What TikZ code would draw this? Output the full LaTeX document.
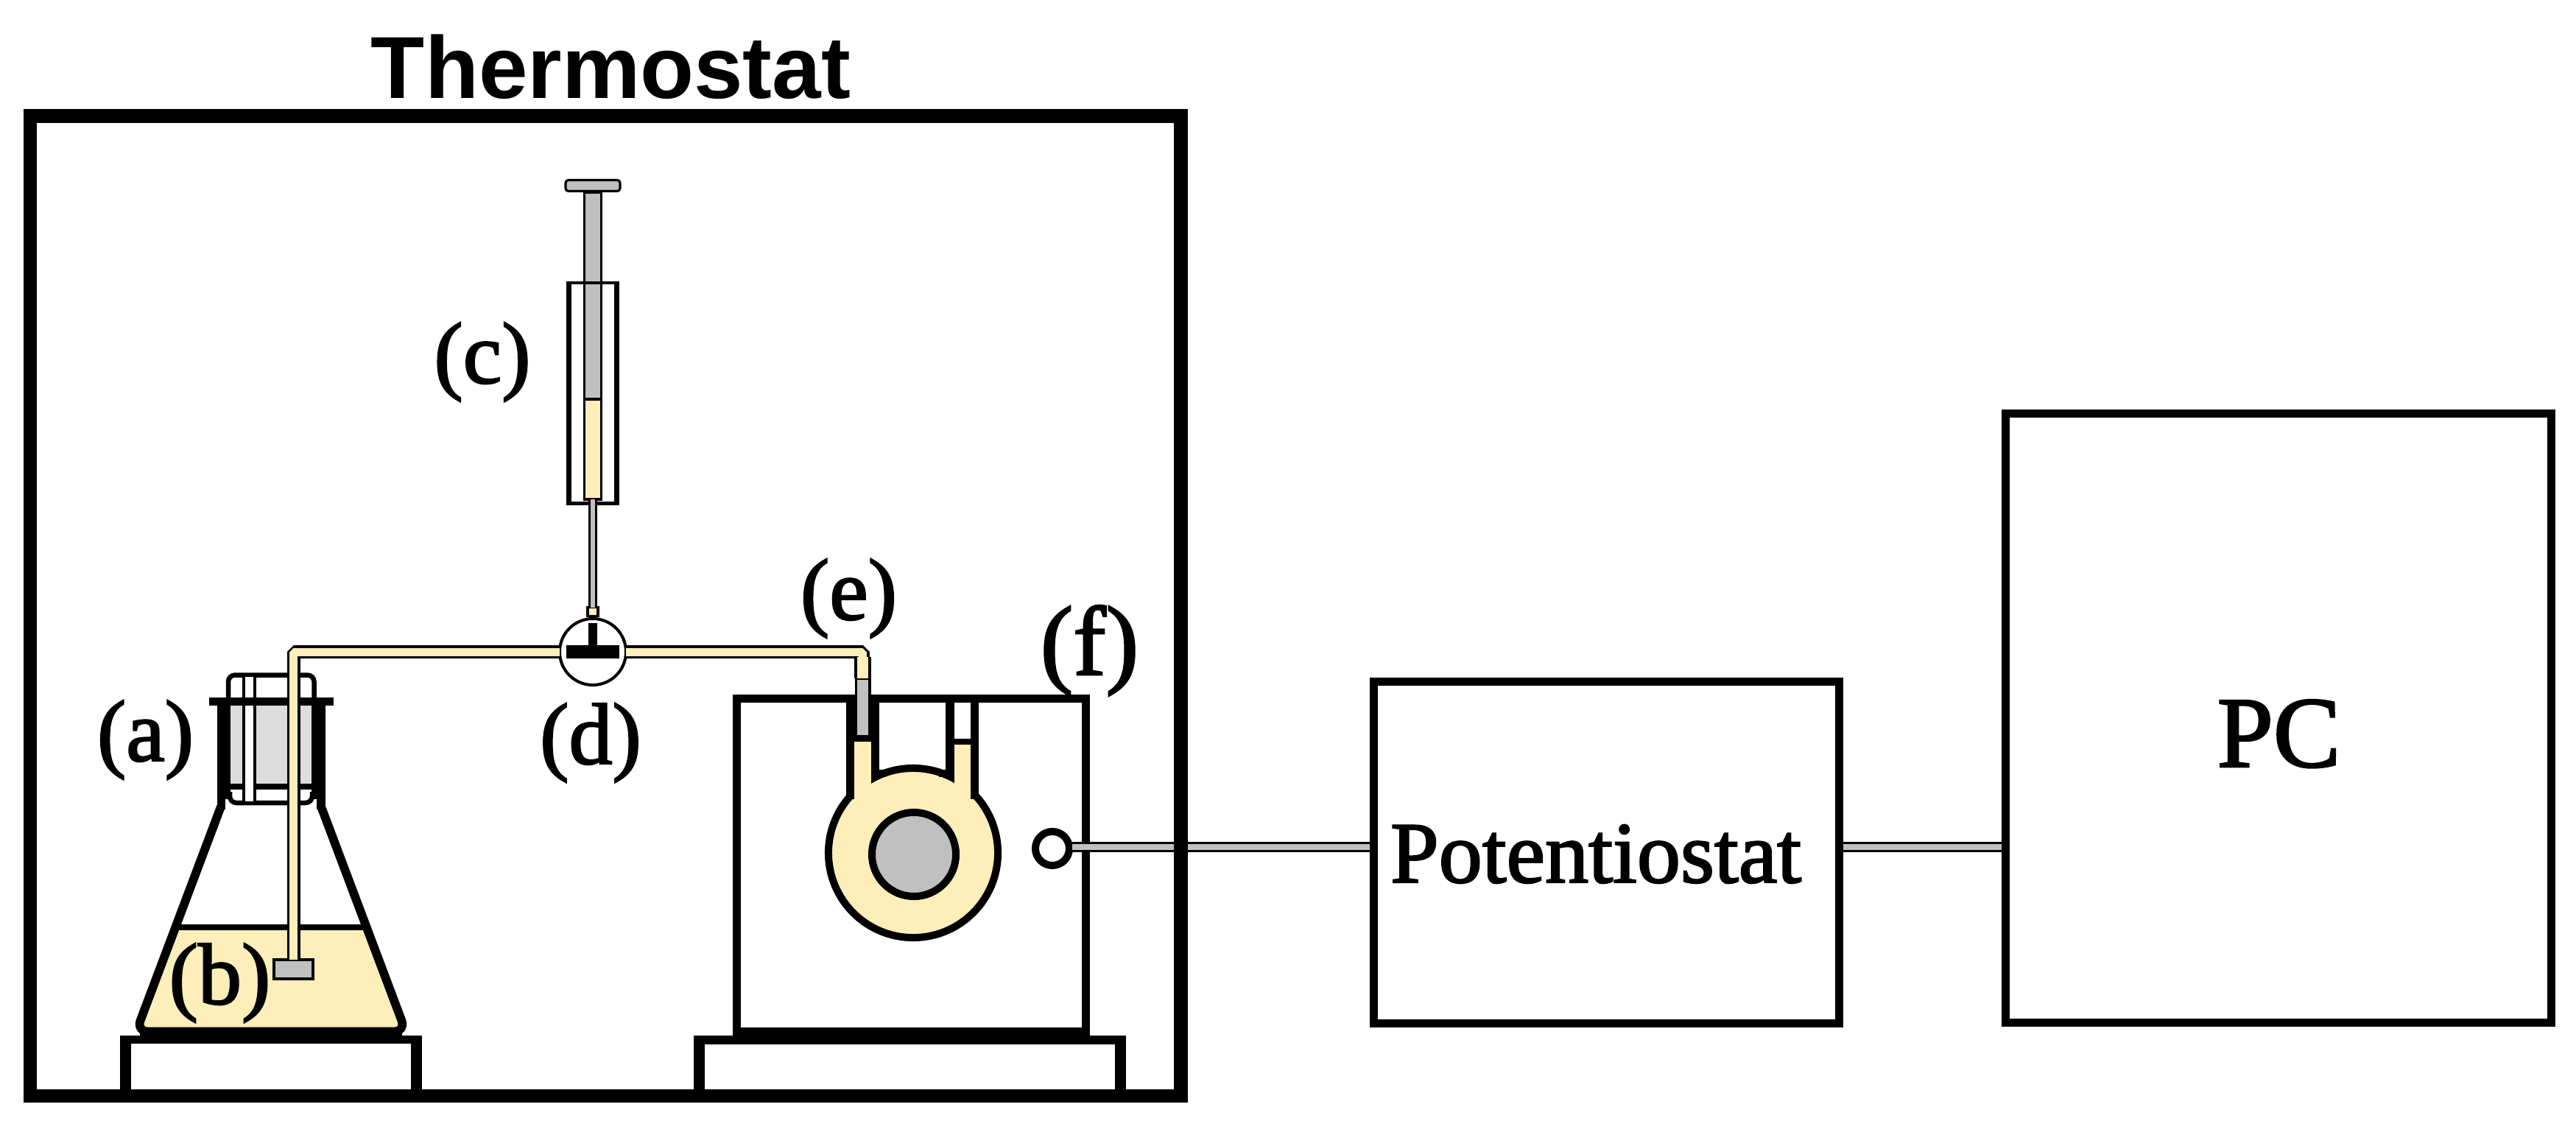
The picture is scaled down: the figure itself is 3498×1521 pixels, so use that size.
\documentclass[tikz,border=0pt]{standalone}
\usepackage{fontspec}
\setmainfont{Liberation Serif}
\newfontfamily\lblfont{Liberation Serif}[FakeBold=2]
\newfontfamily\headfont{Liberation Sans}
\newcommand{\pxu}{0.28453pt}
\definecolor{liquid}{HTML}{FEEEB9}
\definecolor{metal}{HTML}{C0C0C0}
\definecolor{stopper}{HTML}{DCDCDC}
\tikzset{
  lbl/.style={anchor=base,inner sep=0pt,outer sep=0pt,font=\lblfont\fontsize{33.6pt}{40pt}\selectfont},
  bigbox/.style={draw=black,fill=white,line width=11*\pxu,inner sep=0pt,outer sep=0pt,rectangle},
  tube/.style={draw=black,line width=3.5*\pxu,double=liquid,double distance=11*\pxu,line join=bevel},
  wire/.style={draw=black,line width=3.5*\pxu,double=metal,double distance=7.5*\pxu},
  needle/.style={draw=black,line width=3.2*\pxu,double=metal,double distance=5.5*\pxu},
  ring/.style={circle,inner sep=0pt,outer sep=0pt,draw=black},
  thinbox/.style={rectangle,inner sep=0pt,outer sep=0pt,draw=black,line width=3.2*\pxu}
}
\begin{document}
\begin{tikzpicture}[x=0.01cm,y=-0.01cm]
\path[use as bounding box,fill=white] (0,0) rectangle (3498,1521);

% supports
\fill[black] (163,1406) rectangle (573,1482);
\fill[white] (178,1417) rectangle (558,1482);
\fill[black] (942,1406) rectangle (1529,1482);
\fill[white] (957,1418) rectangle (1514,1482);

% flask: liquid and walls
\fill[liquid,rounded corners=15*\pxu] (238,1259) -- (185,1400) -- (551,1400) -- (498,1259) -- cycle;
\draw[black,line width=8*\pxu] (238,1259) -- (498,1259);
\draw[black,line width=11.7*\pxu,rounded corners=16*\pxu,line join=round] (300,1095) -- (185,1400.5) -- (551,1400.5) -- (436,1095);
\fill[black] (190,1395) rectangle (546,1406);
% stopper
\fill[stopper] (313,958) rectangle (423,1064);
\draw[black,line width=6.5*\pxu,rounded corners=9*\pxu] (310,952) -- (310,916.5) -- (426.5,916.5) -- (426.5,952);
\fill[white] (314,1071) rectangle (422,1087);
\draw[black,line width=6.5*\pxu,rounded corners=9*\pxu] (312,1075) -- (312,1090) -- (424,1090) -- (424,1075);
\draw[black,line width=7.5*\pxu] (313,1068) -- (423,1068);
\node[thinbox,line width=4*\pxu,fill=white,minimum width=15*\pxu,minimum height=173*\pxu] (stoppertube) at (338.5,1003.5) {};
% neck
\fill[black] (295,947) rectangle (313,1085);
\fill[black] (295,1085) rectangle (306,1099);
\fill[black] (423,947) rectangle (442,1085);
\fill[black] (430,1085) rectangle (442,1099);
\fill[black] (284,947) rectangle (453,958);

% electrode end piece and stopcock
\node[thinbox,fill=metal,minimum width=53*\pxu,minimum height=26*\pxu] (endpiece) at (398.5,1316) {};
\node[ring,fill=white,line width=4*\pxu,minimum size=90*\pxu] (valve) at (805,885) {};
\fill[black] (769,876) rectangle (841,894);
\fill[black] (799,846) rectangle (811,876);

% syringe
\fill[black] (769,382) rectangle (776,686);
\fill[black] (834,382) rectangle (841,686);
\fill[black] (769,681) rectangle (841,686);
\node[thinbox,fill=metal,minimum width=23*\pxu,minimum height=281*\pxu] (plungerrod) at (805,401.5) {};
\node[thinbox,fill=liquid,minimum width=23*\pxu,minimum height=136*\pxu] (syrliquid) at (805,610) {};
\fill[black] (769,382) rectangle (841,385.5);
\node[thinbox,fill=liquid,minimum width=14*\pxu,minimum height=12*\pxu] (cap) at (805,830.5) {};
\node[thinbox,fill=metal,rounded corners=4*\pxu,minimum width=74*\pxu,minimum height=15*\pxu] (handle) at (805,252) {};
\draw[needle] (syrliquid.south) -- (cap.north);

% cell
\node[bigbox,minimum width=474*\pxu,minimum height=451.5*\pxu] (cell) at (1237.5,1174.75) {};
\node[ring,fill=liquid,line width=10*\pxu,minimum size=230*\pxu] (cellbody) at (1240,1158) {};
\fill[liquid] (1160,1007) rectangle (1183,1100);
\fill[liquid] (1296,1011) rectangle (1318,1100);
\fill[black] (1149,954) rectangle (1194,1007);
\fill[black] (1149,1007) rectangle (1160,1085);
\fill[black] (1183,1007) rectangle (1194,1055);
\fill[black] (1284,954) rectangle (1296,1055);
\fill[black] (1318,954) rectangle (1329,1085);
\fill[black] (1296,1003) rectangle (1318,1011);
\fill[black] (1183,1045) rectangle (1203,1055);
\fill[black] (1275,1045) rectangle (1296,1055);
\node[ring,fill=metal,line width=10*\pxu,minimum size=114*\pxu] (workel) at (1241,1160) {};
\node[thinbox,line width=3.5*\pxu,fill=metal,minimum width=18.5*\pxu,minimum height=79*\pxu] (capillary) at (1171.5,960.5) {};
\coordinate (tubedown) at (capillary.north);
\coordinate (tubebend) at (1171.5,892);

% tubes
\draw[tube] (endpiece.north) |- (valve.west);
\draw[tube] (valve.east) -| (tubedown);
\draw[tube,double distance=15.5*\pxu] (tubebend) -- (tubedown);

% boxes and wires
\node[ring,fill=white,line width=10*\pxu,minimum size=46*\pxu] (fterm) at (1429,1152) {};
\node[bigbox,minimum width=632*\pxu,minimum height=464*\pxu] (pot) at (2181.5,1157.5) {};
\node[bigbox,minimum width=741*\pxu,minimum height=827*\pxu] (pc) at (3094,975) {};
\coordinate (wirey) at (0,1150);
\draw[wire,shorten <=4*\pxu,shorten >=5.5*\pxu] (fterm.east |- wirey) -- (pot.west |- wirey);
\draw[wire,shorten <=5.5*\pxu,shorten >=5.5*\pxu] (pot.east |- wirey) -- (pc.west |- wirey);

% thermostat frame
\node[rectangle,draw=black,line width=18.5*\pxu,inner sep=0pt,outer sep=0pt,minimum width=1561.5*\pxu,minimum height=1329.5*\pxu] (frame) at (822.25,822.75) {};

% labels
\node[anchor=base,inner sep=0pt,font=\headfont\bfseries\fontsize{34pt}{40pt}\selectfont] (title) at (829.5,133) {Thermostat};
\node[lbl] (la) at (197.5,1033) {(a)};
\node[lbl] (lb) at (298.5,1363) {(b)};
\node[lbl] (lc) at (655,520) {(c)};
\node[lbl] (ld) at (802,1037) {(d)};
\node[lbl] (le) at (1152.5,841) {(e)};
\node[lbl,font=\lblfont\fontsize{38pt}{44pt}\selectfont] (lf) at (1479.5,916) {(f)};
\node[lbl] (ptext) at (2167,1198) {Potentiostat};
\node[lbl,font=\lblfont\fontsize{39pt}{44pt}\selectfont] (pctext) at (3094.5,1041) {PC};
\end{tikzpicture}
\end{document}
